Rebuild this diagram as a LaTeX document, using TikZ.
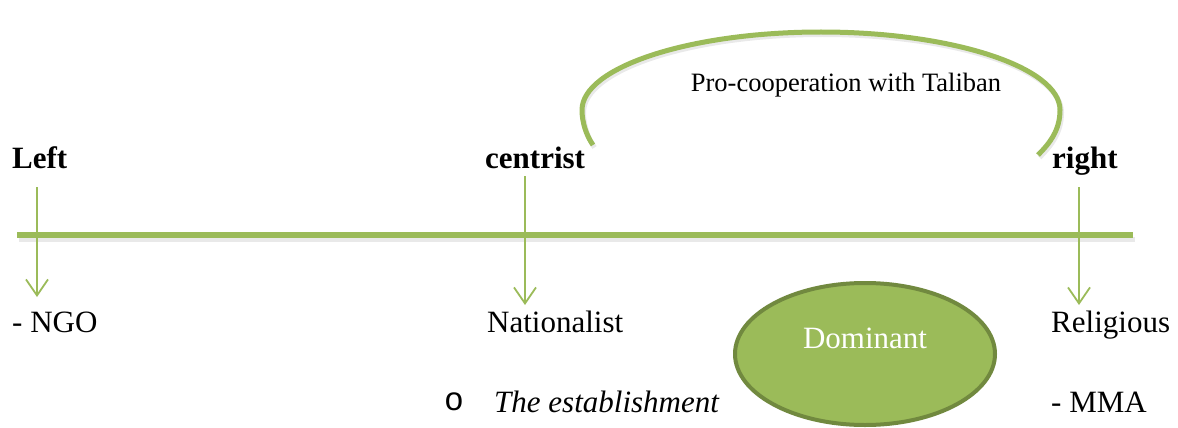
\documentclass[tikz,border=0pt]{standalone}
\usepackage{fontspec}
\setmainfont{Liberation Serif}
\newfontfamily\bulletfont{Liberation Mono}
\usetikzlibrary{arrows.meta}
\definecolor{ogreen}{HTML}{9BBB59}
\definecolor{ogreendark}{HTML}{71893F}
\begin{document}
\begin{tikzpicture}[x=1pt,y=-1pt,
  lbl/.style={inner sep=0pt,anchor=base west,font=\fontsize{31}{36}\selectfont},
  head/.style={lbl,font=\fontsize{31}{36}\selectfont\bfseries},
  pointer/.style={draw=ogreen,line width=1.8pt,-{Straight Barb[length=16pt,width=22pt,line width=1.8pt]}},
  shadowline/.style={draw=black!40,opacity=0.22,line width=5pt}]
\useasboundingbox (0,0) rectangle (1178,428);
% main axis
\draw[shadowline] (19,239) -- (1135,239);
\draw[draw=ogreen,line width=6pt] (17,235) -- (1133,235);
% arc
\begin{scope}[shift={(1.5,2.5)}]
\draw[shadowline] (593,145) .. controls (586,135) and (582,122) .. (582,110)
  .. controls (582,67.5) and (689,32) .. (821,32)
  .. controls (953,32) and (1060,67.5) .. (1060,110)
  .. controls (1060,130) and (1050,143) .. (1038,155);
\end{scope}
\draw[draw=ogreen,line width=5pt] (593,145) coordinate (arcL) .. controls (586,135) and (582,122) .. (582,110)
  .. controls (582,67.5) and (689,32) .. (821,32)
  .. controls (953,32) and (1060,67.5) .. (1060,110)
  .. controls (1060,130) and (1050,143) .. (1038,155) coordinate (arcR);
\node[inner sep=0pt,font=\fontsize{26.5}{30}\selectfont] (pro) at (846,85) {Pro-cooperation with Taliban};
% headings
\node[head] (left) at (12,168) {Left};
\node[head] (centrist) at (485,168) {centrist};
\node[head] (right) at (1052,168) {right};
% labels
\node[lbl] (ngo) at (12,332) {- NGO};
\node[lbl] (nat) at (487,332) {Nationalist};
\node[lbl] (rel) at (1051,332) {Religious};
\node[lbl] (mma) at (1051,412) {- MMA};
\node[lbl,font=\fontsize{33}{36}\bulletfont] (bul) at (444,410) {o};
\node[lbl,font=\fontsize{31}{36}\selectfont\itshape] (est) at (494,412) {The establishment};
% ellipse
\draw[ogreendark,line width=4pt,fill=ogreen] (865,354) ellipse[x radius=130,y radius=71];
\node[inner sep=0pt,text=white,font=\fontsize{31}{36}\selectfont] (dom) at (865,338) {Dominant};
% pointers
\coordinate (a1) at (37,187); \coordinate (b1) at (37,297);
\coordinate (a2) at (525,176); \coordinate (b2) at (525,305);
\coordinate (a3) at (1079,187); \coordinate (b3) at (1079,305);
\draw[pointer] (a1) -- (b1);
\draw[pointer] (a2) -- (b2);
\draw[pointer] (a3) -- (b3);
\end{tikzpicture}
\end{document}
